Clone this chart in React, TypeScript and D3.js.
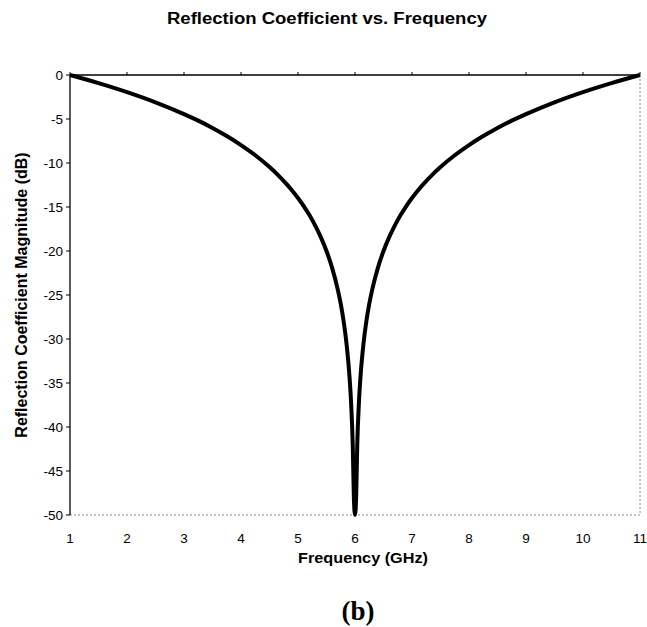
import React, { useRef, useEffect } from "react";
import * as d3 from "d3";

// frequency (GHz) and |Gamma| (dB)
const freqs = [
  1, 1.5, 2, 2.5, 3, 3.25, 3.5, 3.75, 4, 4.25, 4.5, 4.65, 4.8, 4.9, 5, 5.1,
  5.2, 5.3, 5.4, 5.5, 5.6, 5.7, 5.75, 5.8, 5.85, 5.9, 5.93, 5.96, 5.98, 6,
  6.02, 6.04, 6.07, 6.1, 6.15, 6.2, 6.25, 6.3, 6.4, 6.5, 6.6, 6.7, 6.8, 6.9,
  7, 7.1, 7.2, 7.35, 7.5, 7.75, 8, 8.25, 8.5, 8.75, 9, 9.5, 10, 10.5, 11,
];
const gammaDb = [
  0, -0.92, -1.94, -3.1, -4.44, -5.19, -6.02, -6.94, -7.96, -9.12, -10.46,
  -11.37, -12.4, -13.15, -13.98, -14.89, -15.92, -17.08, -18.42, -20.0,
  -21.94, -24.44, -26.02, -27.96, -30.46, -33.98, -37.08, -41.94, -47.96, -50,
  -47.96, -41.94, -37.08, -33.98, -30.46, -27.96, -26.02, -24.44, -21.94,
  -20.0, -18.42, -17.08, -15.92, -14.89, -13.98, -13.15, -12.4, -11.37,
  -10.46, -9.12, -7.96, -6.94, -6.02, -5.19, -4.44, -3.1, -1.94, -0.92, 0,
];
const xTicks = [1, 2, 3, 4, 5, 6, 7, 8, 9, 10, 11];
const yTicks = [0, -5, -10, -15, -20, -25, -30, -35, -40, -45, -50];

const W = 647;
const H = 627;

const App = () => {
  const ref = useRef<SVGSVGElement>(null);

  useEffect(() => {
    if (!ref.current) return;
    const svg = d3.select(ref.current);
    svg.selectAll("*").remove();

    const left = 70,
      right = 640,
      top = 75,
      bottom = 515;

    const x = d3.scaleLinear().domain([1, 11]).range([left, right]);
    const y = d3.scaleLinear().domain([0, -50]).range([top, bottom]);

    const font = "'Liberation Sans', Arial, sans-serif";

    // plot area border (light, dotted on right/bottom)
    svg
      .append("line")
      .attr("x1", right)
      .attr("x2", right)
      .attr("y1", top)
      .attr("y2", bottom)
      .attr("stroke", "#888")
      .attr("stroke-dasharray", "2,2");
    svg
      .append("line")
      .attr("x1", left)
      .attr("x2", right)
      .attr("y1", bottom)
      .attr("y2", bottom)
      .attr("stroke", "#888")
      .attr("stroke-dasharray", "2,2");

    // x axis sits on y = 0 (top), ticks pointing up
    svg
      .append("line")
      .attr("x1", left)
      .attr("x2", right)
      .attr("y1", y(0))
      .attr("y2", y(0))
      .attr("stroke", "#000")
      .attr("stroke-width", 1.3);
    svg
      .selectAll(".xt")
      .data(xTicks)
      .enter()
      .append("line")
      .attr("x1", (d) => x(d))
      .attr("x2", (d) => x(d))
      .attr("y1", y(0))
      .attr("y2", y(0) - 3)
      .attr("stroke", "#000");

    // y axis
    svg
      .append("line")
      .attr("x1", left)
      .attr("x2", left)
      .attr("y1", top)
      .attr("y2", bottom)
      .attr("stroke", "#000")
      .attr("stroke-width", 1.3);
    svg
      .selectAll(".yt")
      .data(yTicks)
      .enter()
      .append("line")
      .attr("x1", left - 4)
      .attr("x2", left)
      .attr("y1", (d) => y(d))
      .attr("y2", (d) => y(d))
      .attr("stroke", "#000");

    svg
      .selectAll(".yl")
      .data(yTicks)
      .enter()
      .append("text")
      .attr("x", left - 7)
      .attr("y", (d) => y(d))
      .attr("dy", "0.36em")
      .attr("text-anchor", "end")
      .style("font-family", font)
      .style("font-size", "13.5px")
      .text((d) => d);

    svg
      .selectAll(".xl")
      .data(xTicks)
      .enter()
      .append("text")
      .attr("x", (d) => x(d))
      .attr("y", 543)
      .attr("text-anchor", "middle")
      .style("font-family", font)
      .style("font-size", "13.5px")
      .text((d) => d);

    // curve
    const line = d3
      .line<number>()
      .x((d, i) => x(freqs[i]))
      .y((d) => y(d))
      .curve(d3.curveMonotoneX);
    svg
      .append("path")
      .datum(gammaDb)
      .attr("d", line)
      .attr("fill", "none")
      .attr("stroke", "#000")
      .attr("stroke-width", 4)
      .attr("stroke-linejoin", "round");

    // titles
    svg
      .append("text")
      .attr("x", 327)
      .attr("y", 24)
      .attr("text-anchor", "middle")
      .attr("textLength", 320)
      .attr("lengthAdjust", "spacingAndGlyphs")
      .style("font-family", font)
      .style("font-weight", "bold")
      .style("font-size", "16px")
      .text("Reflection Coefficient vs. Frequency");

    svg
      .append("text")
      .attr("x", 363)
      .attr("y", 563)
      .attr("text-anchor", "middle")
      .attr("textLength", 130)
      .attr("lengthAdjust", "spacingAndGlyphs")
      .style("font-family", font)
      .style("font-weight", "bold")
      .style("font-size", "15px")
      .text("Frequency (GHz)");

    svg
      .append("text")
      .attr("transform", `translate(27,${(top + bottom) / 2}) rotate(-90)`)
      .attr("text-anchor", "middle")
      .style("font-family", font)
      .style("font-weight", "bold")
      .style("font-size", "16px")
      .text("Reflection Coefficient Magnitude (dB)");

    svg
      .append("text")
      .attr("x", 358)
      .attr("y", 620)
      .attr("text-anchor", "middle")
      .style("font-family", "'Liberation Serif', 'Times New Roman', serif")
      .style("font-weight", "bold")
      .style("font-size", "27px")
      .text("(b)");
  }, []);

  return (
    <svg
      ref={ref}
      width={W}
      height={H}
      style={{ position: "absolute", left: 0, top: 0, background: "#fff" }}
    />
  );
};

export default App;
